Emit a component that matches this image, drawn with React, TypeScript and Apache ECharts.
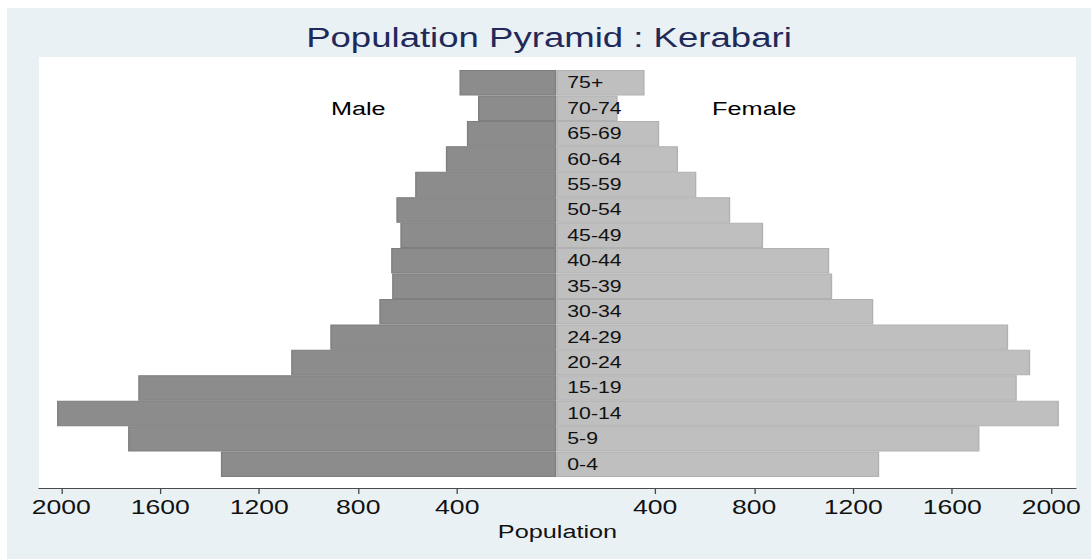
import React, { useEffect, useRef } from "react";
import * as echarts from "echarts";

// ---- data ----
const ageGroups = [
  "0-4", "5-9", "10-14", "15-19", "20-24", "24-29", "30-34", "35-39",
  "40-44", "45-49", "50-54", "55-59", "60-64", "65-69", "70-74", "75+",
];
const male = [1355, 1730, 2017, 1689, 1071, 913, 715, 663, 667, 630, 646, 570, 446, 361, 316, 391];
const female = [1305, 1710, 2031, 1861, 1915, 1826, 1281, 1115, 1103, 836, 703, 566, 492, 416, 248, 357];
const tickValues = [-2000, -1600, -1200, -800, -400, 400, 800, 1200, 1600, 2000];
const sideLabels = [
  { name: "Male", value: -800, group: "70-74" },
  { name: "Female", value: 800, group: "70-74" },
];

// ---- layout (the reference image is stretched horizontally) ----
const S = 1.33;
const BOX_LEFT = 7;
const BOX_TOP = 8;
const BOX_W = 1084;
const BOX_H = 551;
const W = BOX_W / S;
const X = (px: number) => (px - BOX_LEFT) / S;
const Y = (py: number) => py - BOX_TOP;

const FONT = "'Liberation Sans', Arial, Helvetica, sans-serif";

export default function App() {
  const ref = useRef<HTMLDivElement>(null);

  useEffect(() => {
    if (!ref.current) return;
    const chart = echarts.init(ref.current, null, { renderer: "svg" });
    const option: any = {
      animation: false,
      backgroundColor: "#EAF1F4",
      textStyle: { fontFamily: FONT },
      title: {
        text: "Population Pyramid : Kerabari",
        left: "center",
        top: 16,
        padding: 0,
        textStyle: { color: "#1F2A5A", fontSize: 27.5, fontWeight: "normal", fontFamily: FONT },
      },
      graphic: [
        {
          type: "rect",
          silent: true,
          z: -10,
          shape: { x: X(39), y: Y(57), width: (1076 - 39) / S, height: 488 - 57 },
          style: { fill: "#FFFFFF" },
        },
      ],
      grid: {
        left: X(39),
        right: W - X(1076),
        top: Y(70),
        bottom: BOX_H - Y(477),
        containLabel: false,
      },
      xAxis: {
        type: "value",
        min: -2090,
        max: 2100,
        offset: 11,
        axisLine: { show: true, onZero: false, lineStyle: { color: "#4A4A4A", width: 1 } },
        axisTick: { show: true, length: 6, customValues: tickValues, lineStyle: { color: "#4A4A4A" } },
        axisLabel: {
          customValues: tickValues,
          formatter: (v: number) => String(Math.abs(v)),
          fontSize: 20,
          color: "#111111",
          fontFamily: FONT,
          margin: 9,
        },
        splitLine: { show: false },
        name: "Population",
        nameLocation: "middle",
        nameGap: 31,
        nameTextStyle: { fontSize: 19, color: "#111111", fontFamily: FONT },
      },
      yAxis: {
        type: "category",
        data: ageGroups,
        axisLine: { show: false },
        axisTick: { show: false },
        splitLine: { show: false },
        axisLabel: { show: false },
      },
      series: [
        {
          name: "Male",
          type: "bar",
          data: male.map((v) => -v),
          barGap: "-100%",
          barCategoryGap: 0,
          itemStyle: { color: "#8C8C8C", borderColor: "#7E7E7E", borderWidth: 1 },
        },
        {
          name: "Female",
          type: "bar",
          data: female,
          barGap: "-100%",
          barCategoryGap: 0,
          itemStyle: { color: "#BFBFBF", borderColor: "#B1B1B1", borderWidth: 1 },
          label: {
            show: true,
            position: "insideLeft",
            distance: 11 / S,
            formatter: (p: any) => p.name,
            fontSize: 16,
            color: "#111111",
            fontFamily: FONT,
          },
        },
        {
          type: "scatter",
          symbol: "circle",
          symbolSize: 0,
          itemStyle: { color: "#FFFFFF", opacity: 1 },
          z: 5,
          data: sideLabels.map((d) => ({ name: d.name, value: [d.value, d.group] })),
          label: {
            show: true,
            position: "inside",
            formatter: (p: any) => p.name,
            fontSize: 19,
            color: "#000000",
            textBorderWidth: 0,
            opacity: 1,
            fontFamily: FONT,
          },
        },
      ],
    };
    chart.setOption(option);
    return () => chart.dispose();
  }, []);

  return (
    <div
      style={{
        position: "absolute",
        left: BOX_LEFT,
        top: BOX_TOP,
        width: BOX_W,
        height: BOX_H,
        overflow: "hidden",
      }}
    >
      <div
        ref={ref}
        style={{ width: W, height: BOX_H, transform: `scaleX(${S})`, transformOrigin: "0 0" }}
      />
    </div>
  );
}
